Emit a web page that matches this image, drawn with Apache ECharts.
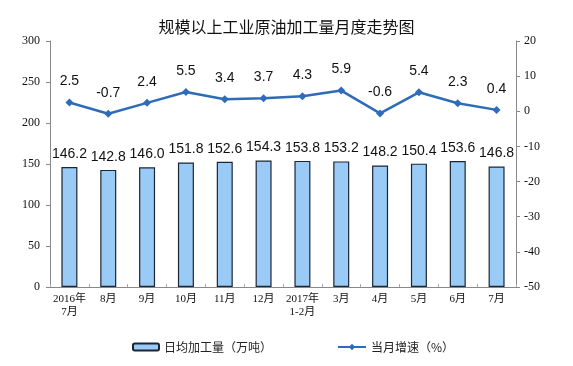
<!DOCTYPE html>
<html><head><meta charset="utf-8">
<script src="https://cdn.jsdelivr.net/npm/echarts@6/dist/echarts.min.js"></script>
<style>html,body{margin:0;padding:0;background:#fff}#c{width:573px;height:366px}</style>
</head><body><div id="c"></div>
<script>
const categories = ['2016年\n7月','8月','9月','10月','11月','12月','2017年\n1-2月','3月','4月','5月','6月','7月'];
const dailyOutput = [146.2,142.8,146.0,151.8,152.6,154.3,153.8,153.2,148.2,150.4,153.6,146.8];
const monthlyGrowth = [2.5,-0.7,2.4,5.5,3.4,3.7,4.3,5.9,-0.6,5.4,2.3,0.4];
const barName = '日均加工量（万吨）';
const lineName = '当月增速（%）';

const chart = echarts.init(document.getElementById('c'));
const serif = '"Liberation Serif","Noto Sans CJK SC",serif';
const sans = '"Liberation Sans",Arial,sans-serif';
chart.setOption({
  animation:false,
  title:{text:'规模以上工业原油加工量月度走势图',left:'center',top:14,
    textStyle:{fontFamily:'"Noto Sans CJK SC",sans-serif',fontSize:16,fontWeight:'normal',color:'#111'}},
  grid:{left:50,right:57,top:41,bottom:79},
  legend:[
    {data:[barName],left:127,top:336,itemWidth:26,itemHeight:7,
      textStyle:{fontFamily:'"Noto Sans CJK SC",sans-serif',fontSize:12,color:'#222'}},
    {data:[lineName],left:332,top:336,itemWidth:28,itemHeight:8,
      textStyle:{fontFamily:'"Noto Sans CJK SC",sans-serif',fontSize:12,color:'#222'}}
  ],
  xAxis:{type:'category',data:categories,
    axisLine:{lineStyle:{color:'#888'}},
    axisTick:{show:true,inside:true,length:3,lineStyle:{color:'#aaa'}},
    axisLabel:{fontFamily:serif,fontSize:11,color:'#111',margin:6,lineHeight:13,interval:0}},
  yAxis:[
    {type:'value',min:0,max:300,interval:50,splitLine:{show:false},
      axisLine:{show:true,lineStyle:{color:'#888'}},
      axisTick:{show:true,length:4,lineStyle:{color:'#888'}},
      axisLabel:{fontFamily:serif,fontSize:12,color:'#111',margin:10}},
    {type:'value',min:-50,max:20,interval:10,splitLine:{show:false},
      axisLine:{show:true,lineStyle:{color:'#888'}},
      axisTick:{show:true,length:4,lineStyle:{color:'#888'}},
      axisLabel:{fontFamily:serif,fontSize:12,color:'#111',margin:8}}
  ],
  series:[
    {name:barName,type:'bar',data:dailyOutput,yAxisIndex:0,barWidth:16,
      itemStyle:{color:'#9ACBF7',borderColor:'#1c2633',borderWidth:1.2},
      label:{show:true,position:'top',distance:6,formatter:p=>p.value.toFixed(1),
        fontFamily:sans,fontSize:14,color:'#111'}},
    {name:lineName,type:'line',data:monthlyGrowth,yAxisIndex:1,
      symbol:'diamond',symbolSize:8,
      lineStyle:{color:'#2E6BB8',width:2.5},itemStyle:{color:'#2E6BB8'},
      label:{show:true,position:'top',distance:10,formatter:p=>p.value.toFixed(1),
        fontFamily:sans,fontSize:14,color:'#111'}}
  ]
});
</script></body></html>
